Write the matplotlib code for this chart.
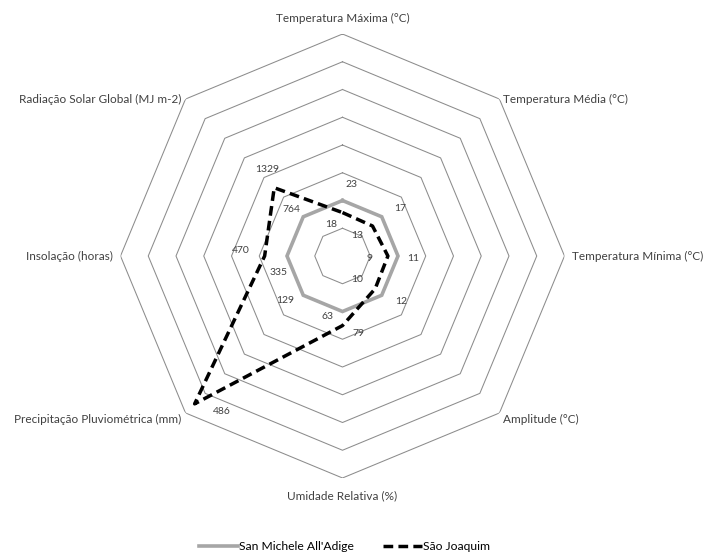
import numpy as np
import matplotlib.pyplot as plt

plt.rcParams['font.family'] = ['Lato', 'DejaVu Sans']

categories = ["Temperatura Máxima (°C)", "Temperatura Média (°C)", "Temperatura Mínima (°C)",
              "Amplitude (°C)", "Umidade Relativa (%)", "Precipitação Pluviométrica (mm)",
              "Insolação (horas)", "Radiação Solar Global (MJ m-2)"]
san_michele = [23, 17, 11, 12, 63, 129, 335, 764]
sao_joaquim = [18, 13, 9, 10, 79, 486, 470, 1329]
ring_levels = [0.5, 1.0, 1.5, 2.0, 2.5, 3.0, 3.5, 4.0]

# relative to San Michele (reference = 1)
sm = np.array(san_michele, dtype=float)
sj = np.array(sao_joaquim, dtype=float)
sm_rel = sm / sm
sj_rel = sj / sm

n = len(categories)
theta = np.arange(n) * 2 * np.pi / n

fig = plt.figure(figsize=(7.08, 5.6), dpi=100)
ax = fig.add_axes([0.1702, 0.1464, 0.6271, 0.7929], projection='polar')
ax.set_theta_zero_location('N')
ax.set_theta_direction(-1)
ax.set_ylim(0, 4)
ax.grid(False)
ax.spines['polar'].set_visible(False)
ax.set_xticks([])
ax.set_yticks([])

th_closed = np.append(theta, theta[0])
for r in ring_levels:
    ax.plot(th_closed, [r] * (n + 1), color='#8c8c8c', lw=0.75, zorder=1)

ax.plot(th_closed, np.append(sm_rel, sm_rel[0]), color='#a6a6a6', lw=2.6,
        solid_joinstyle='miter', label="San Michele All'Adige", zorder=3)
ax.plot(th_closed, np.append(sj_rel, sj_rel[0]), color='black', lw=2.5,
        dashes=(2.8, 1.5), label="São Joaquim", zorder=4)

# data label offsets (pixels)
sm_off = [(9, -16), (18, -8), (15, 2), (19, 6), (-15, 5), (-18, 5), (-8, 16), (-12, -7)]
sj_off = [(-11, 12), (-15, 10), (-18, 2), (-18, -9), (16, 8), (27, 8), (-24, -6), (-7, -18)]
for i in range(n):
    dx, dy = sm_off[i]
    ax.annotate(str(san_michele[i]), xy=(theta[i], sm_rel[i]), xytext=(dx, -dy),
                textcoords='offset pixels', ha='center', va='center', fontsize=7.5, color='#404040')
    dx, dy = sj_off[i]
    ax.annotate(str(sao_joaquim[i]), xy=(theta[i], sj_rel[i]), xytext=(dx, -dy),
                textcoords='offset pixels', ha='center', va='center', fontsize=7.5, color='#404040')

# category labels
cat_style = [((0, 10), 'center', 'bottom'), ((4, 0), 'left', 'center'), ((8, 0), 'left', 'center'),
             ((4, -6), 'left', 'center'), ((0, -12), 'center', 'top'), ((-4, -6), 'right', 'center'),
             ((-8, 0), 'right', 'center'), ((-4, 0), 'right', 'center')]
for i in range(n):
    off, ha, va = cat_style[i]
    ax.annotate(categories[i], xy=(theta[i], ring_levels[-1]), xytext=off,
                textcoords='offset pixels', ha=ha, va=va, fontsize=8.5, color='#404040')

fig.legend(loc='center', bbox_to_anchor=(0.487, 0.024), ncol=2, frameon=False,
           fontsize=8.7, handlelength=3.2, columnspacing=2.4, handletextpad=0.1)

fig.savefig('out.png', dpi=100)
